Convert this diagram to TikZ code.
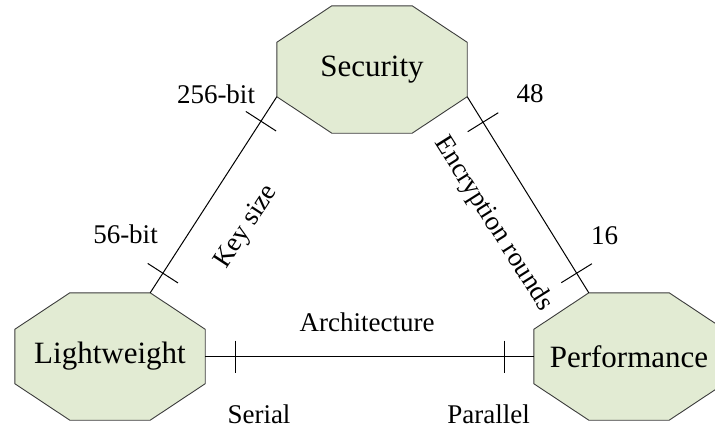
\documentclass[tikz,border=0pt]{standalone}
\usepackage{fontspec}
\setmainfont{Liberation Serif}
\usetikzlibrary{calc,backgrounds}
\definecolor{octfill}{RGB}{226,235,211}
\definecolor{octline}{RGB}{60,60,60}
\begin{document}
\begin{tikzpicture}[x=1pt,y=-1pt,
  octnode/.style={minimum width=190pt,minimum height=127pt,inner sep=0pt,font=\fontsize{31}{37}\selectfont},
  lbl/.style={inner sep=0pt,font=\fontsize{27}{32}\selectfont},
  link/.style={draw=black,line width=1pt},
  tickmark/.style={draw=black,line width=1pt},
  octshape/.style={fill=octfill,draw=octline,line width=0.9pt}]
\useasboundingbox (0,0) rectangle (715,426);
\node[octnode] (S) at (372,69.5) {Security};
\node[octnode] (L) at (110,356.5) {Lightweight};
\node[octnode] (P) at (629,356.5) {Performance};
\begin{scope}[on background layer]
\foreach \n in {S,L,P}{
  \filldraw[octshape] ([xshift=55pt]\n.north west) -- ([xshift=-55pt]\n.north east)
    -- ([yshift=-36.5pt]\n.north east) -- ([yshift=36.5pt]\n.south east)
    -- ([xshift=-55pt]\n.south east) -- ([xshift=55pt]\n.south west)
    -- ([yshift=36.5pt]\n.south west) -- ([yshift=-36.5pt]\n.north west) -- cycle;
}
\end{scope}
\coordinate (SL) at ([yshift=36.5pt]S.south west);
\coordinate (LS) at ([xshift=-55pt]L.north east);
\coordinate (SR) at ([yshift=36.5pt]S.south east);
\coordinate (PS) at ([xshift=55pt]P.north west);
\draw[link] (SL) -- (LS);
\draw[link] (SR) -- (PS);
\draw[link] (L.east) -- (P.west);
\foreach \a/\b/\t/\h in {SL/LS/0.125/18pt, SL/LS/0.9/18pt, SR/PS/0.13/18pt, SR/PS/0.9/18pt, L.east/P.west/0.091/16pt, L.east/P.west/0.912/16pt}
  \draw[tickmark] ($(\a)!\t!(\b)!\h!90:(\b)$) -- ($(\a)!\t!(\b)!\h!-90:(\b)$);
\coordinate (km) at ($(SL)!0.54!(LS)$);
\node[lbl, rotate=56.8] (keysize) at ($(km)!45.7pt!90:(LS)$) {Key size};
\coordinate (em) at ($(SR)!0.528!(PS)$);
\node[lbl, rotate=-57.8] (encr) at ($(em)!44.9pt!-90:(PS)$) {Encryption rounds};
\node[lbl] (k256) at (216,94) {256-bit};
\node[lbl] (k56) at (125.5,234) {56-bit};
\node[lbl] (r48) at (530,94) {48};
\node[lbl] (r16) at (604.5,236) {16};
\node[lbl] (arch) at (367,322.5) {Architecture};
\node[lbl] (ser) at (259,414.5) {Serial};
\node[lbl] (par) at (488.5,414.5) {Parallel};
\end{tikzpicture}
\end{document}
